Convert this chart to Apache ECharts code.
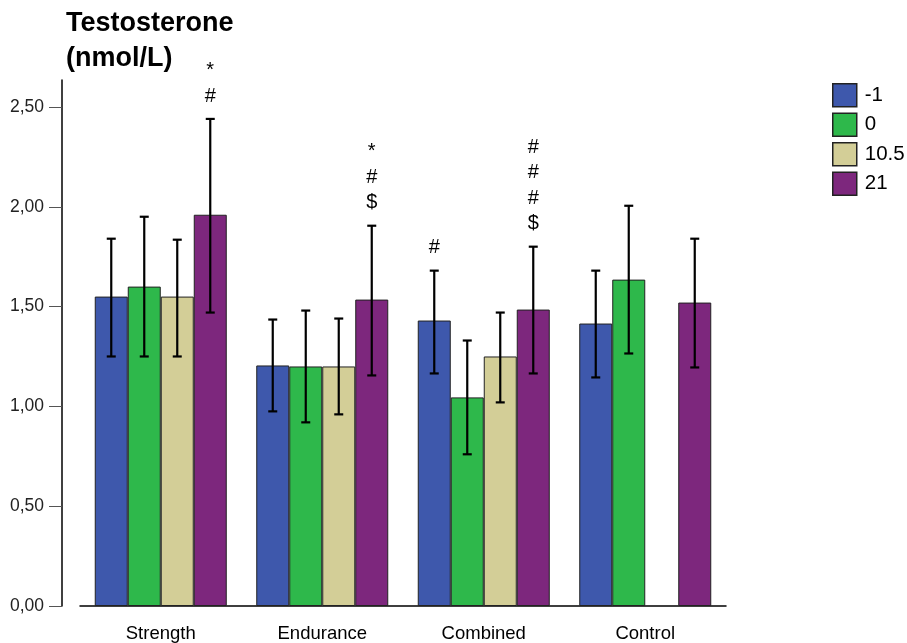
<!DOCTYPE html>
<html>
<head>
<meta charset="utf-8">
<script src="https://cdn.jsdelivr.net/npm/echarts@6/dist/echarts.min.js"></script>
<style>html,body{margin:0;padding:0;background:#fff;}#c{width:907px;height:643px;}</style>
</head>
<body>
<div id="c"></div>
<script>
const categories = ['Strength', 'Endurance', 'Combined', 'Control'];
const seriesNames = ['-1', '0', '10.5', '21'];
const colors = ['#3E58AC', '#2EB84B', '#D3CE97', '#7D277D'];
const meanM1 = [1.55, 1.205, 1.43, 1.415];
const mean0 = [1.60, 1.20, 1.045, 1.635];
const mean105 = [1.55, 1.20, 1.25, null];
const mean21 = [1.96, 1.535, 1.485, 1.52];
const lowM1 = [1.25, 0.975, 1.165, 1.145];
const highM1 = [1.84, 1.435, 1.68, 1.68];
const low0 = [1.25, 0.92, 0.76, 1.265];
const high0 = [1.95, 1.48, 1.33, 2.005];
const low105 = [1.25, 0.96, 1.02, null];
const high105 = [1.835, 1.44, 1.47, null];
const low21 = [1.47, 1.155, 1.165, 1.195];
const high21 = [2.44, 1.905, 1.80, 1.84];
const annM1 = ['', '', '#', ''];
const ann0 = ['', '', '', ''];
const ann105 = ['', '', '', ''];
const ann21 = ['*\n#', '*\n#\n$', '#\n#\n#\n$', ''];
const yTicks = [0, 0.5, 1.0, 1.5, 2.0, 2.5];

const means = [meanM1, mean0, mean105, mean21];
const lows = [lowM1, low0, low105, low21];
const highs = [highM1, high0, high105, high21];
const anns = [annM1, ann0, ann105, ann21];

const BAR_W = 33;
const FONT = 'Liberation Sans, Arial, sans-serif';

const errData = [];
for (let s = 0; s < 4; s++) {
  for (let c = 0; c < 4; c++) {
    if (lows[s][c] == null) continue;
    errData.push([c, s, lows[s][c], highs[s][c], anns[s][c]]);
  }
}

const chart = echarts.init(document.getElementById('c'), null, {renderer: 'canvas'});
const barSeries = seriesNames.map((n, i) => ({
  name: n,
  type: 'bar',
  data: means[i],
  barWidth: BAR_W,
  barGap: '0%',
  itemStyle: {color: colors[i], borderColor: '#222', borderWidth: 1},
  emphasis: {disabled: true}
}));

chart.setOption({
  animation: false,
  title: {
    text: 'Testosterone\n(nmol/L)',
    left: 66, top: 6, padding: 0,
    textStyle: {fontFamily: FONT, fontWeight: 'bold', fontSize: 27, lineHeight: 35, color: '#000'}
  },
  legend: {
    orient: 'vertical', left: 832, top: 83, padding: 0,
    itemWidth: 24, itemHeight: 23, itemGap: 5,
    icon: 'rect',
    data: seriesNames,
    itemStyle: {borderColor: '#222', borderWidth: 1.5},
    textStyle: {fontFamily: FONT, fontSize: 20.5, color: '#000', padding: [0, 0, 0, 3]}
  },
  grid: {left: 80, right: 181, top: 80, bottom: 36},
  xAxis: {
    type: 'category',
    data: categories,
    axisLine: {lineStyle: {color: '#000', width: 1.5}},
    axisTick: {alignWithLabel: true, length: 11, lineStyle: {color: '#000', width: 1}},
    axisLabel: {fontFamily: FONT, fontSize: 18.5, color: '#000', margin: 18}
  },
  yAxis: {
    type: 'value', min: 0, max: 2.635, interval: 0.5,
    offset: 18,
    axisLine: {show: true, lineStyle: {color: '#000', width: 1.5}},
    axisTick: {show: true, length: 13, lineStyle: {color: '#555'}},
    splitLine: {show: false},
    axisLabel: {
      fontFamily: FONT, fontSize: 17.5, color: '#222', margin: 18,
      showMaxLabel: false,
      formatter: v => v.toFixed(2).replace('.', ',')
    }
  },
  series: barSeries.concat([{
    type: 'custom',
    data: errData,
    z: 10,
    silent: true,
    encode: {x: 0, y: [2, 3]},
    renderItem: function (params, api) {
      const c = api.value(0), s = api.value(1);
      const lo = api.coord([c, api.value(2)]);
      const hi = api.coord([c, api.value(3)]);
      const x = lo[0] + (s - 1.5) * BAR_W;
      const cap = 4.5;
      const children = [
        {type: 'line', shape: {x1: x, y1: lo[1], x2: x, y2: hi[1]}, style: {stroke: '#000', lineWidth: 2.2}},
        {type: 'line', shape: {x1: x - cap, y1: lo[1], x2: x + cap, y2: lo[1]}, style: {stroke: '#000', lineWidth: 2.2}},
        {type: 'line', shape: {x1: x - cap, y1: hi[1], x2: x + cap, y2: hi[1]}, style: {stroke: '#000', lineWidth: 2.2}}
      ];
      const txt = api.value(4);
      if (txt) {
        children.push({
          type: 'text',
          style: {
            text: txt, x: x, y: hi[1] - 10,
            align: 'center', verticalAlign: 'bottom',
            font: '20px ' + FONT, lineHeight: 25.5, fill: '#000'
          }
        });
      }
      return {type: 'group', children: children};
    }
  }])
});
</script>
</body>
</html>
